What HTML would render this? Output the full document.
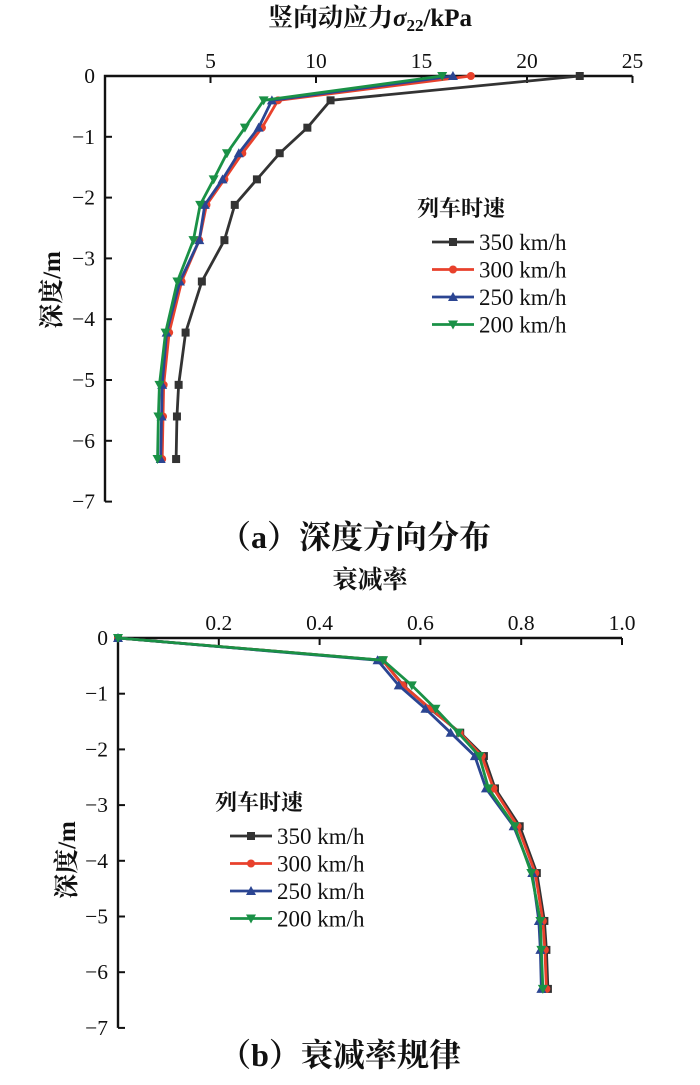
<!DOCTYPE html>
<html><head><meta charset="utf-8">
<style>
body{margin:0;background:#fff;}
svg text{font-family:"Liberation Serif","Noto Serif CJK SC",serif;fill:#111;}
</style></head>
<body>
<svg id="c" width="700" height="1080"></svg>
<script>
const depths=[0,-0.4,-0.85,-1.27,-1.7,-2.12,-2.7,-3.38,-4.22,-5.08,-5.6,-6.3];
const speedLabels=["350 km/h","300 km/h","250 km/h","200 km/h"];
const stress350=[22.5,10.69,9.59,8.28,7.2,6.15,5.66,4.59,3.82,3.49,3.41,3.37];
const stress300=[17.34,8.2,7.44,6.51,5.66,4.81,4.47,3.63,3.04,2.78,2.75,2.71];
const stress250=[16.49,7.91,7.28,6.34,5.57,4.73,4.47,3.55,2.92,2.71,2.68,2.64];
const stress200=[15.98,7.52,6.63,5.78,5.15,4.51,4.19,3.43,2.87,2.58,2.53,2.49];
const decay350=[0,0.525,0.566,0.619,0.679,0.726,0.748,0.797,0.831,0.846,0.85,0.853];
const decay300=[0,0.525,0.565,0.62,0.678,0.722,0.745,0.793,0.828,0.843,0.847,0.85];
const decay250=[0,0.515,0.557,0.61,0.66,0.708,0.73,0.785,0.822,0.835,0.838,0.84];
const decay200=[0,0.526,0.583,0.63,0.675,0.717,0.735,0.787,0.82,0.838,0.84,0.843];
const xTicksA=[5,10,15,20,25];
const xTicksB=[0.2,0.4,0.6,0.8,1.0];
const yTicks=[0,-1,-2,-3,-4,-5,-6,-7];
const colors=["#333333","#e8412c","#2b4592","#1a9146"];
const markers=["square","circle","up","down"];

const NS="http://www.w3.org/2000/svg";
const svg=document.getElementById('c');
function mk(tag,attrs,parent){const e=document.createElementNS(NS,tag);for(const k in attrs)e.setAttribute(k,attrs[k]);(parent||svg).appendChild(e);return e;}

function marker(g,type,x,y,col){
  let e;
  if(type==="square")e=mk('rect',{x:x-4,y:y-4,width:8,height:8,fill:col},g);
  else if(type==="circle")e=mk('circle',{cx:x,cy:y,r:4,fill:col},g);
  else if(type==="up")e=mk('polygon',{points:`${x},${y-5} ${x-5},${y+4} ${x+5},${y+4}`,fill:col},g);
  else e=mk('polygon',{points:`${x},${y+5} ${x-5},${y-4} ${x+5},${y-4}`,fill:col},g);
  
  
}

function chart(o){
  const g=mk('g',{});
  
  
  const xs=v=>o.x0+(v-o.xmin)*o.xs, ys=v=>o.y0-v*o.ys;
  const ax=mk('path',{d:`M${o.x0},${ys(-7)+0}V${o.y0}H${xs(o.xmax)}`,stroke:'#111','stroke-width':2.4,fill:'none'},g);
  
  o.xt.forEach(t=>{
    const X=xs(t);
    mk('line',{x1:X,y1:o.y0,x2:X,y2:o.y0+7,stroke:'#111','stroke-width':2},g);
    const tx=mk('text',{x:X,y:o.y0-8,'text-anchor':'middle','font-size':21.5},g);
    tx.textContent=o.fmt(t);
    
  });
  yTicks.forEach(t=>{
    const Y=ys(t);
    mk('line',{x1:o.x0,y1:Y,x2:o.x0+7,y2:Y,stroke:'#111','stroke-width':2},g);
    const tx=mk('text',{x:o.x0-10,y:Y+7,'text-anchor':'end','font-size':21.5},g);
    tx.textContent=t===0?'0':'−'+(-t);
    
  });
  o.series.forEach((s,i)=>{
    const pts=s.map((v,j)=>xs(v)+','+ys(depths[j])).join(' ');
    const pl=mk('polyline',{points:pts,fill:'none',stroke:colors[i],'stroke-width':2.8},g);
    
    
    s.forEach((v,j)=>marker(g,markers[i],xs(v),ys(depths[j]),colors[i]));
  });
  const xt=mk('text',{x:o.xtx,y:o.xty,'text-anchor':'middle','font-size':25,'font-weight':'bold'},g);
  xt.innerHTML=o.xtitle;
  
  const yt=mk('text',{x:0,y:0,'text-anchor':'middle','font-size':25,'font-weight':'bold',transform:`translate(${o.ytx},${o.yty}) rotate(-90)`},g);
  yt.textContent='深度/m';
  
  const lg=mk('g',{},g);
  
  const lt=mk('text',{x:o.lx-15,y:o.ly,'font-size':22,'font-weight':'bold'},lg);
  lt.textContent='列车时速';
  
  speedLabels.forEach((l,i)=>{
    const Y=o.ly+26+i*27.5;
    mk('line',{x1:o.lx,y1:Y,x2:o.lx+42,y2:Y,stroke:colors[i],'stroke-width':2.8},lg);
    marker(lg,markers[i],o.lx+21,Y,colors[i]);
    const t=mk('text',{x:o.lx+47,y:Y+8,'font-size':23},lg);
    t.textContent=l;
    
  });
  const cap=mk('text',{x:o.capx,y:o.capy,'text-anchor':'middle','font-size':32,'font-weight':'bold'},g);
  cap.textContent=o.cap;
  
}

chart({name:'chart-a-depth-distribution',x0:105,y0:76,xmin:0,xmax:25,xs:21.1,ys:60.8,xt:xTicksA,fmt:t=>String(t),
  series:[stress350,stress300,stress250,stress200],
  xtitle:'竖向动应力<tspan font-style="italic">σ</tspan><tspan font-size="17" dy="5">22</tspan><tspan dy="-5">/kPa</tspan>',xtx:370,xty:26,
  ytx:60,yty:290,lx:432,ly:216,cap:'（a）深度方向分布',capx:355,capy:548});
chart({name:'chart-b-decay-rate',x0:118,y0:638,xmin:0,xmax:1.0,xs:504,ys:55.7,xt:xTicksB,fmt:t=>t.toFixed(1),
  series:[decay350,decay300,decay250,decay200],
  xtitle:'衰减率',xtx:370,xty:588,
  ytx:75,yty:860,lx:230,ly:810,cap:'（b）衰减率规律',capx:340,capy:1066});
</script>
</body></html>
